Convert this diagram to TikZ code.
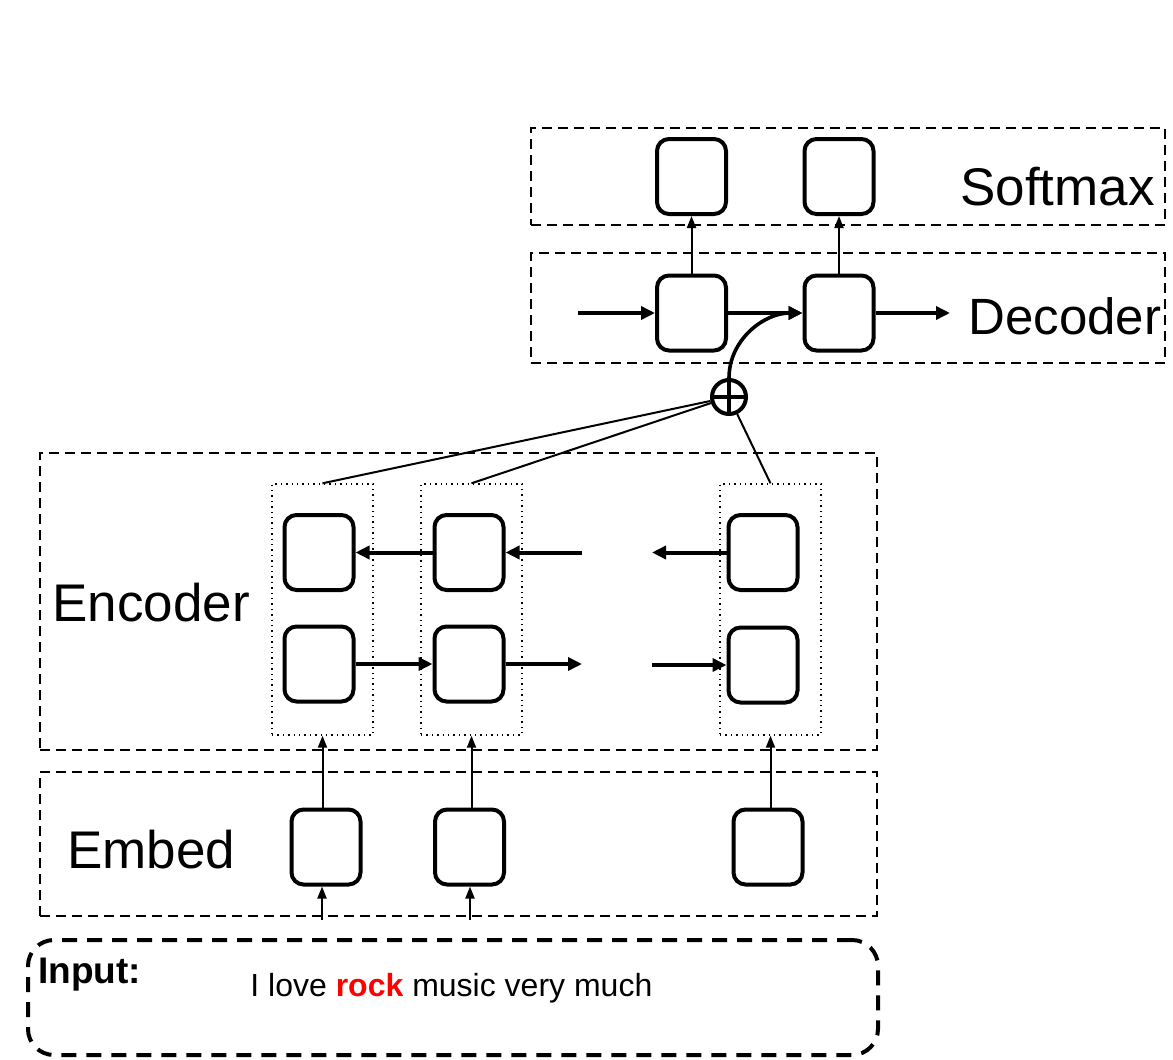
\documentclass[tikz,border=0pt]{standalone}
\usepackage{fontspec}
\setmainfont{Liberation Sans}
\usetikzlibrary{arrows.meta}
\begin{document}
\begin{tikzpicture}[x=0.5pt,y=-0.5pt,
  cell/.style={draw, line width=2pt, rounded corners=6pt, minimum width=34.5pt, minimum height=37.5pt, inner sep=0pt},
  region/.style={draw, line width=1pt, dash pattern=on 5pt off 3pt, inner sep=0pt},
  column/.style={draw, line width=0.7pt, dotted, inner sep=0pt, minimum width=50.5pt, minimum height=125.5pt},
  bigarrow/.style={line width=2pt, -{Triangle[length=7pt,width=6.5pt]}},
  smallarrow/.style={line width=1pt, -{Triangle[length=6pt,width=4.5pt]}},
  thinline/.style={line width=1pt},
  biglabel/.style={anchor=west, inner sep=0pt, font=\fontsize{26.5}{30}\selectfont}
]
\useasboundingbox (0,0) rectangle (1173,1060);

% region boxes
\node[region, minimum width=317pt, minimum height=48.5pt] (smbox) at (848,176.5) {};
\node[region, minimum width=317pt, minimum height=55pt] (decbox) at (848,308) {};
\node[region, minimum width=418.5pt, minimum height=148.5pt] (encbox) at (458.5,601.5) {};
\node[region, minimum width=418.5pt, minimum height=72pt] (embbox) at (458.5,844) {};
\node[draw, line width=2pt, dash pattern=on 7.5pt off 5pt, rounded corners=13pt, inner sep=0pt,
      minimum width=425pt, minimum height=57.5pt] (inbox) at (453,997.5) {};

% labels
\node[biglabel] (lsm) at (960,187) {Softmax};
\node[biglabel, font=\fontsize{25.5}{29}\selectfont] (ldec) at (968,316) {Decoder};
\node[biglabel] (lenc) at (52,603) {Encoder};
\node[biglabel] (lemb) at (67,850) {Embed};
\node[anchor=west, inner sep=0pt, font=\fontsize{18.5}{21}\selectfont\bfseries] (lin) at (38,975) {Input:};
\node[anchor=west, inner sep=0pt, font=\fontsize{16}{19}\selectfont] (sent) at (250,988) {I love \textcolor{red}{\textbf{rock}} music very much};

% softmax cells
\node[cell] (sm1) at (691.5,176.5) {};
\node[cell] (sm2) at (839,176.5) {};
% decoder cells
\node[cell] (dec1) at (691.5,313) {};
\node[cell] (dec2) at (839,313) {};

% encoder columns
\node[column] (col1) at (322.5,609.5) {};
\node[column] (col2) at (471.5,609.5) {};
\node[column] (col3) at (770.5,609.5) {};

% encoder cells
\node[cell] (e1t) at (319,552.5) {};
\node[cell] (e1b) at (319,664) {};
\node[cell] (e2t) at (469,552.5) {};
\node[cell] (e2b) at (469,664) {};
\node[cell] (e3t) at (763,552.5) {};
\node[cell] (e3b) at (763,665) {};

% embed cells
\node[cell] (emb1) at (326,847) {};
\node[cell] (emb2) at (469.5,847) {};
\node[cell] (emb3) at (768,847) {};

% oplus
\node[circle, draw, line width=2pt, minimum size=17pt, inner sep=0pt] (op) at (729,397) {};
\draw[line width=1.8pt] (op.north) -- (op.south) (op.west) -- (op.east);

% free ends
\coordinate (decin) at (578,313);
\coordinate (decout) at (950,313);
\coordinate (tin) at (582,552.5);
\coordinate (tout) at (652,552.5);
\coordinate (bout) at (582,664);
\coordinate (bin) at (652,665);
\coordinate (in1) at (322,920);
\coordinate (in2) at (470,920);

% decoder arrows
\draw[bigarrow] (decin) -- (dec1.west);
\draw[bigarrow] (dec1.east) -- (dec2.west);
\draw[bigarrow] (dec2.east) -- (decout);
\draw[smallarrow] (dec1.north) -- (sm1.south);
\draw[smallarrow] (dec2.north) -- (sm2.south);
\draw[bigarrow, line width=1.8pt] (op.north) to[out=90, in=180] (dec2.west);

% attention lines
\draw[thinline] (op) -- (col1.north);
\draw[thinline] (op) -- (col2.north);
\draw[thinline] (op) -- (col3.north);

% encoder arrows
\draw[bigarrow] (e2t.west) -- (e1t.east);
\draw[bigarrow] (tin) -- (e2t.east);
\draw[bigarrow] (e3t.west) -- (tout);
\draw[bigarrow] (e1b.east) -- (e2b.west);
\draw[bigarrow] (e2b.east) -- (bout);
\draw[bigarrow] (bin) -- (e3b.west);

% embed to encoder
\draw[smallarrow] (emb1.north -| col1.south) -- (col1.south);
\draw[smallarrow] (emb2.north -| col2.south) -- (col2.south);
\draw[smallarrow] (emb3.north -| col3.south) -- (col3.south);

% input to embed
\draw[smallarrow] (in1) -- (in1 |- emb1.south);
\draw[smallarrow] (in2) -- (in2 |- emb2.south);
\end{tikzpicture}
\end{document}
